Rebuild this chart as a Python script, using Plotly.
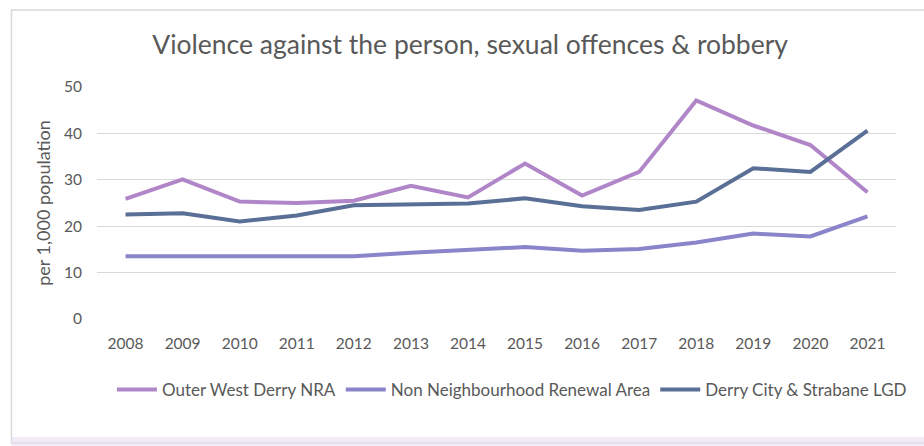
import plotly.graph_objects as go

years = ["2008", "2009", "2010", "2011", "2012", "2013", "2014",
         "2015", "2016", "2017", "2018", "2019", "2020", "2021"]
outer_west = [25.9, 30.1, 25.3, 25.0, 25.5, 28.7, 26.2, 33.5, 26.6, 31.7, 47.1, 41.7, 37.5, 27.3]
non_nra = [13.5, 13.5, 13.3, 13.5, 13.5, 14.3, 15.0, 15.5, 14.7, 15.1, 16.5, 18.4, 17.8, 22.1]
derry_lgd = [22.5, 22.8, 21.0, 22.3, 24.5, 24.8, 24.9, 26.0, 24.3, 23.5, 25.3, 32.5, 31.7, 40.6]
y_ticks = [0, 10, 20, 30, 40, 50]

series = [
    ("Outer West Derry NRA", outer_west, "#B086C9"),
    ("Non Neighbourhood Renewal Area", non_nra, "#8A84CA"),
    ("Derry City & Strabane LGD", derry_lgd, "#5A6F96"),
]

FONT = "Lato"
TXT = "#595959"

fig = go.Figure()
for name, vals, col in series:
    fig.add_trace(go.Scatter(
        x=years, y=vals, name=name, mode="lines",
        line=dict(color=col, width=4),
    ))

W, H = 924, 446
L, R, T, B = 97, 24, 87, 127
pw, ph = W - L - R, H - T - B


def px_x(p):
    return (p - L) / pw


def px_y(p):
    return (H - B - p) / ph


fig.update_layout(
    width=W, height=H,
    margin=dict(l=L, r=R, t=T, b=B),
    paper_bgcolor="white", plot_bgcolor="white",
    font=dict(family=FONT, color=TXT, size=15),
    title=dict(
        text="Violence against the person, sexual offences & robbery",
        x=px_x(472), xanchor="center", xref="paper",
        y=1 - 45 / H, yanchor="middle",
        font=dict(family=FONT, size=26.5, color=TXT),
    ),
    xaxis=dict(
        type="category", range=[-0.5, len(years) - 0.5],
        showgrid=False, showline=False, zeroline=False,
        ticks="", tickfont=dict(size=15.5, color=TXT),
        ticklabelstandoff=13,
    ),
    yaxis=dict(
        range=[0, 50], tickvals=y_ticks,
        showgrid=True, gridcolor="#D9D9D9", gridwidth=1,
        zeroline=False, showline=False, ticks="",
        tickfont=dict(size=15.5, color=TXT),
        ticklabelstandoff=14,
        title=dict(text="per 1,000 population", font=dict(size=18, color=TXT), standoff=8),
    ),
    legend=dict(
        orientation="h", x=px_x(514), xanchor="center",
        y=px_y(390), yanchor="middle",
        font=dict(size=17, color=TXT),
        itemwidth=40, tracegroupgap=0,
    ),
    showlegend=True,
    shapes=[
        dict(type="rect", xref="paper", yref="paper",
             x0=px_x(11), x1=px_x(940), y0=px_y(443), y1=px_y(10),
             line=dict(color="#D9D9D9", width=1.5), fillcolor="rgba(0,0,0,0)",
             layer="below"),
        dict(type="rect", xref="paper", yref="paper",
             x0=px_x(11), x1=px_x(940), y0=px_y(446), y1=px_y(437),
             line=dict(width=0), fillcolor="rgba(230,222,240,0.6)",
             layer="below"),
    ],
)

fig.write_html("out.html")
